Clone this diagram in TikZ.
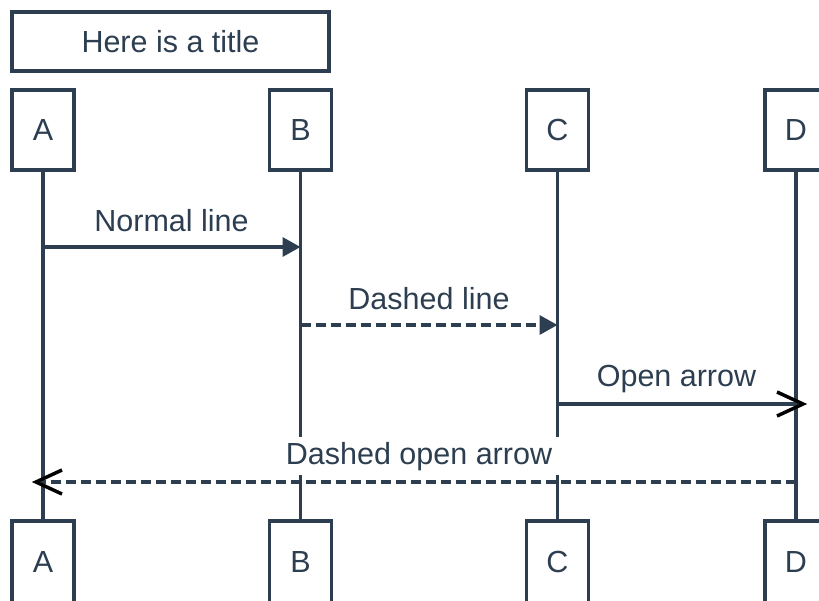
\documentclass[tikz,border=0pt]{standalone}
\usepackage{fontspec}
\setmainfont{Liberation Sans}
\usetikzlibrary{arrows.meta}
\definecolor{ink}{HTML}{2C3E50}
\begin{document}
\begin{tikzpicture}[x=1pt,y=-1pt,
  txt/.style={text=ink, font=\fontsize{30.5}{36}\selectfont},
  actor/.style={txt, draw=ink, fill=white, line width=3.5pt, minimum width=62pt, minimum height=80pt, inner sep=0pt},
  actorlow/.style={actor, minimum height=82pt},
  titlebox/.style={txt, draw=ink, fill=white, line width=3.5pt, minimum width=317pt, minimum height=59pt, inner sep=0pt},
  life/.style={draw=ink, line width=3.5pt},
  msg/.style={draw=ink, line width=3.5pt},
  dashmsg/.style={msg, dash pattern=on 10pt off 5pt},
  solidhead/.style={-{Triangle[length=18pt,width=19pt]}},
  openhead/.style={draw=black, line width=3.5pt, line join=miter},
  lbl/.style={txt, anchor=base, inner sep=0pt},
  lblbg/.style={txt, anchor=base, fill=white, inner xsep=9pt, inner ysep=5pt}
]
\useasboundingbox (0,0) rectangle (819,600);
\clip (0,0) rectangle (819,600);

% title
\node[titlebox] (title) at (170.5,41.5) {Here is a title};

% lifeline coordinates
\coordinate (ta) at (43,170);
\coordinate (tb) at (300.5,170);
\coordinate (tc) at (557.5,170);
\coordinate (td) at (796,170);
\coordinate (ba) at (43,521);
\coordinate (bb) at (300.5,521);
\coordinate (bc) at (557.5,521);
\coordinate (bd) at (796,521);

% lifelines
\draw[life] (ta) -- (ba);
\draw[life] (tb) -- (bb);
\draw[life] (tc) -- (bc);
\draw[life] (td) -- (bd);

% actors
\node[actor] (a1) at (43,130) {A};
\node[actor] (b1) at (300.5,130) {B};
\node[actor] (c1) at (557.5,130) {C};
\node[actor] (d1) at (796,130) {D};
\node[actorlow] (a2) at (43,562) {A};
\node[actorlow] (b2) at (300.5,562) {B};
\node[actorlow] (c2) at (557.5,562) {C};
\node[actorlow] (d2) at (796,562) {D};

% message endpoints
\coordinate (m1s) at (43,247);
\coordinate (m1e) at (300.5,247);
\coordinate (m2s) at (300.5,325);
\coordinate (m2e) at (557.5,325);
\coordinate (m3s) at (557.5,404);
\coordinate (m3e) at (796,404);
\coordinate (m4s) at (796,482);
\coordinate (m4e) at (43,482);

% messages
\draw[msg, solidhead] (m1s) -- (m1e);
\node[lbl] (l1) at (171.5,231) {Normal line};

\draw[dashmsg, solidhead] (m2s) -- (m2e);
\node[lbl] (l2) at (429,309) {Dashed line};

\draw[msg] (m3s) -- (m3e);
\draw[openhead] ([xshift=-19pt,yshift=12pt]m3e) -- ([xshift=7pt]m3e) -- ([xshift=-19pt,yshift=-12pt]m3e);
\node[lbl] (l3) at (676.5,386) {Open arrow};

\draw[dashmsg] (m4s) -- (m4e);
\draw[openhead] ([xshift=19pt,yshift=12pt]m4e) -- ([xshift=-7pt]m4e) -- ([xshift=19pt,yshift=-12pt]m4e);
\node[lblbg] (l4) at (419,464) {Dashed open arrow};
\end{tikzpicture}
\end{document}
